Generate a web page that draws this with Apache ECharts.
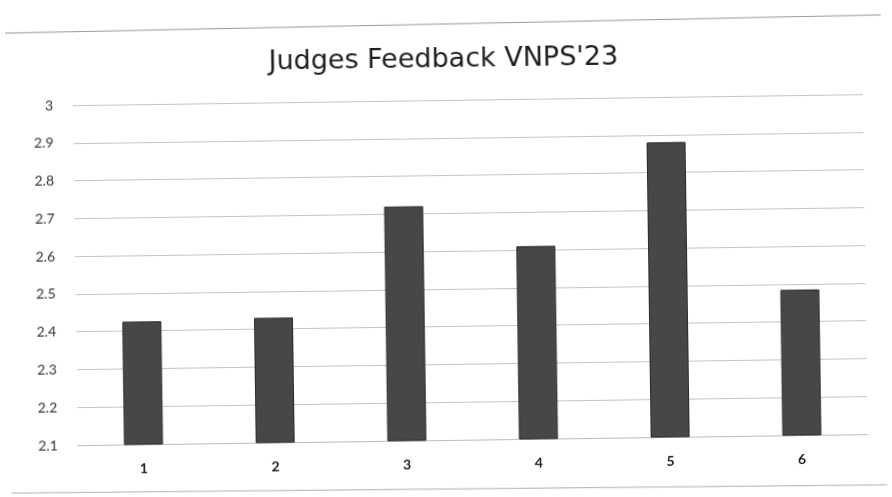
<!DOCTYPE html>
<html>
<head>
<meta charset="utf-8">
<script src="https://cdn.jsdelivr.net/npm/echarts@6/dist/echarts.min.js"></script>
<style>
html,body{margin:0;padding:0;background:#fff;overflow:hidden;}
#c{width:892px;height:497px;transform:rotate(-0.8deg);transform-origin:446px 248px;}
</style>
</head>
<body>
<div id="c"></div>
<script>
const titleText = "Judges Feedback VNPS'23";
const categories = ['1','2','3','4','5','6'];
const scores = [2.425, 2.43, 2.72, 2.61, 2.88, 2.485];
const yMin = 2.1, yMax = 3.0, yStep = 0.1;

const chart = echarts.init(document.getElementById('c'), null, {renderer:'canvas'});
chart.setOption({
  backgroundColor: '#ffffff',
  animation: false,
  title: {
    text: titleText,
    left: 'center',
    top: 41,
    textStyle: {fontFamily: 'DejaVu Sans', fontSize: 27, fontWeight: 'normal', color: '#1e1e1e'}
  },
  graphic: [
    {type:'line', shape:{x1:8,y1:27,x2:884,y2:21}, style:{stroke:'#9a9a9a', lineWidth:1}},
    {type:'line', shape:{x1:8,y1:487,x2:884,y2:491}, style:{stroke:'#b0b0b0', lineWidth:1}}
  ],
  grid: {left: 75, right: 27, top: 100, bottom: 57},
  xAxis: {
    type: 'category',
    data: categories,
    axisLine: {show: true, lineStyle: {color: '#bdbdbd'}},
    axisTick: {show: false},
    axisLabel: {margin: 17, fontFamily: 'Lato', fontSize: 14, fontWeight: 'bold', color: '#222'}
  },
  yAxis: {
    type: 'value',
    min: yMin, max: yMax, interval: yStep,
    axisLine: {show: false},
    axisTick: {show: false},
    splitLine: {lineStyle: {color: '#c4c4c4', width: 1}},
    axisLabel: {
      margin: 20, fontFamily: 'Lato', fontSize: 14, color: '#333',
      formatter: v => String(Math.round(v*10)/10)
    }
  },
  series: [{
    type: 'bar',
    data: scores,
    barWidth: 39,
    itemStyle: {color: '#474747', borderColor: '#2b2b2b', borderWidth: 1}
  }]
});
</script>
</body>
</html>
